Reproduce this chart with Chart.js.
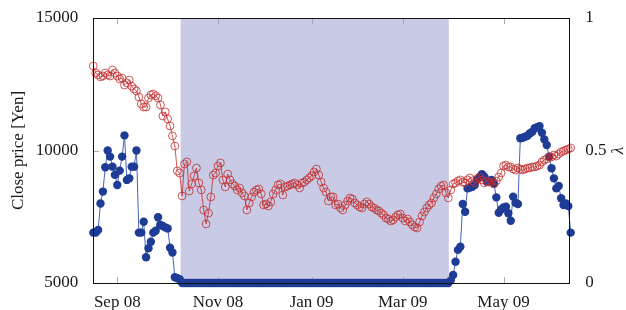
<!DOCTYPE html>
<html>
<head>
<meta charset="utf-8">
<script src="https://cdn.jsdelivr.net/npm/chart.js@4.4.1/dist/chart.umd.min.js"></script>
<style>
  html, body { margin: 0; padding: 0; background: #fff; }
  #wrap { width: 626px; height: 310px; position: relative; }
</style>
</head>
<body>
<div id="wrap"><canvas id="chart"></canvas></div>
<script>
  // trading-day index ticks (Aug 18 2008 = day 0)
  const xTickPos = [10, 52, 91, 129, 171];
  const xTickLabels = ['Sep 08', 'Nov 08', 'Jan 09', 'Mar 09', 'May 09'];
  const priceTicks = [5000, 10000, 15000];
  const lambdaTicks = [0, 0.5, 1];
  // period where lambda = 0 (shaded)
  const zeroPeriod = [36.4, 148.2];

  // close price [Yen], one per trading day
  const closePrice = [
    13190, 12925, 12850, 12775, 12810, 12925, 12850, 12810, 13040, 12925,
    12810, 12700, 12735, 12470, 12550, 12660, 12430, 12320, 12245, 12020,
    11755, 11640, 11640, 11980, 12095, 12130, 12060, 11980, 11720, 11300,
    11455, 11190, 10925, 10550, 10170, 9230, 9150, 8285, 9490, 9570,
    8470, 8740, 9040, 9340, 8775, 8510, 7755, 7225, 7640, 8250,
    9075, 9150, 9415, 9530, 8890, 8625, 9110, 8890, 8740, 8660,
    8510, 8585, 8400, 8285, 7755, 8020, 8250, 8430, 8510, 8550,
    8360, 7945, 7980, 7905, 8060, 8360, 8510, 8700, 8740, 8320,
    8625, 8660, 8700, 8740, 8775, 8700, 8585, 8775, 8810, 8890,
    8965, 9040, 9190, 9300, 9075, 8810, 8585, 8430, 8095, 8250,
    8250, 7945, 7980, 7830, 7755, 7945, 8095, 8210, 8170, 8020,
    7945, 7870, 7830, 7980, 8060, 7980, 7870, 7830, 7755, 7720,
    7640, 7570, 7450, 7415, 7340, 7380, 7490, 7570, 7605, 7450,
    7340, 7415, 7300, 7190, 7110, 7075, 7300, 7530, 7680, 7830,
    7945, 8020, 8210, 8360, 8550, 8660, 8700, 8400, 8210, 8510,
    8740, 8775, 8850, 8890, 8810, 8775, 8890, 8965, 8850, 8775,
    8925, 9000, 8890, 8775, 8850, 8810, 8810, 8740, 8850, 9000,
    9150, 9415, 9450, 9380, 9380, 9300, 9265, 9340, 9300, 9265,
    9300, 9340, 9340, 9380, 9380, 9415, 9450, 9570, 9640, 9680,
    9755, 9755, 9830, 9790, 9870, 9940, 9980, 10020, 10055, 10095
  ];

  // lambda, one per trading day
  const lambda = [
    0.19, 0.19, 0.20, 0.30, 0.345, 0.437, 0.50, 0.477, 0.439, 0.408,
    0.37, 0.424, 0.477, 0.557, 0.389, 0.395, 0.439, 0.439, 0.50, 0.19,
    0.19, 0.231, 0.097, 0.131, 0.156, 0.19, 0.197, 0.248, 0.219, 0.215,
    0.21, 0.206, 0.133, 0.115, 0.022, 0.018, 0.014,
    0, 0, 0, 0, 0, 0, 0, 0, 0, 0, 0, 0, 0, 0, 0, 0,
    0, 0, 0, 0, 0, 0, 0, 0, 0, 0, 0, 0, 0, 0, 0, 0,
    0, 0, 0, 0, 0, 0, 0, 0, 0, 0, 0, 0, 0, 0, 0, 0,
    0, 0, 0, 0, 0, 0, 0, 0, 0, 0, 0, 0, 0, 0, 0, 0,
    0, 0, 0, 0, 0, 0, 0, 0, 0, 0, 0, 0, 0, 0, 0, 0,
    0, 0, 0, 0, 0, 0, 0, 0, 0, 0, 0, 0, 0, 0, 0, 0,
    0, 0, 0, 0, 0, 0, 0, 0, 0, 0, 0, 0, 0, 0, 0, 0,
    0.01, 0.03, 0.08, 0.125, 0.137, 0.298, 0.269, 0.357, 0.36, 0.363,
    0.37, 0.391, 0.40, 0.411, 0.401, 0.382, 0.386, 0.389, 0.375, 0.323,
    0.265, 0.278, 0.285, 0.288, 0.263, 0.235, 0.326, 0.303, 0.298, 0.546,
    0.548, 0.552, 0.556, 0.565, 0.571, 0.584, 0.588, 0.592, 0.567, 0.542,
    0.521, 0.477, 0.433, 0.395, 0.357, 0.366, 0.32, 0.294, 0.30, 0.29,
    0.19
  ];

  const RED = 'rgb(196, 44, 44)';
  const BLUE = 'rgb(30, 60, 150)';
  const BLUE_LINE = 'rgb(70, 100, 185)';
  const SHADE = 'rgb(201, 203, 230)';
  const FONT = "'Liberation Serif', 'DejaVu Serif', serif";

  // shaded band + inside tick marks, then the frame and the right label on top
  const framePlugin = {
    id: 'frame',
    beforeDatasetsDraw(chart) {
      const { ctx, chartArea: a, scales } = chart;
      const x = scales.x, yl = scales.y, yr = scales.y1;
      ctx.save();
      ctx.fillStyle = SHADE;
      const x0 = x.getPixelForValue(zeroPeriod[0]);
      const x1 = x.getPixelForValue(zeroPeriod[1]);
      ctx.fillRect(x0, a.top, x1 - x0, a.bottom - a.top);

      ctx.strokeStyle = '#9a9a9a';
      ctx.lineWidth = 0.8;
      ctx.beginPath();
      xTickPos.forEach(v => {
        const px = Math.round(x.getPixelForValue(v)) + 0.5;
        ctx.moveTo(px, a.bottom); ctx.lineTo(px, a.bottom - 6);
        ctx.moveTo(px, a.top); ctx.lineTo(px, a.top + 6);
      });
      priceTicks.slice(1, -1).forEach(v => {
        const py = Math.round(yl.getPixelForValue(v)) + 0.5;
        ctx.moveTo(a.left, py); ctx.lineTo(a.left + 6, py);
      });
      lambdaTicks.slice(1, -1).forEach(v => {
        const py = Math.round(yr.getPixelForValue(v)) + 0.5;
        ctx.moveTo(a.right, py); ctx.lineTo(a.right - 6, py);
      });
      ctx.stroke();
      ctx.restore();
    },
    afterDatasetsDraw(chart) {
      const { ctx, chartArea: a } = chart;
      ctx.save();
      ctx.strokeStyle = '#111';
      ctx.lineWidth = 1;
      ctx.strokeRect(Math.round(a.left) + 0.5, Math.round(a.top) + 0.5,
        Math.round(a.right - a.left) - 1, Math.round(a.bottom - a.top));
      ctx.restore();
    },
    afterDraw(chart) {
      // right axis title, rotated the same way as the left one
      const { ctx, chartArea: a } = chart;
      ctx.save();
      ctx.translate(chart.width - 7, (a.top + a.bottom) / 2);
      ctx.rotate(-Math.PI / 2);
      ctx.fillStyle = '#1a1a1a';
      ctx.font = 'italic 17px ' + FONT;
      ctx.textAlign = 'center';
      ctx.textBaseline = 'middle';
      ctx.fillText('λ', 0, 0);
      ctx.restore();
    }
  };

  new Chart(document.getElementById('chart'), {
    type: 'line',
    data: {
      datasets: [
        {
          label: 'Close price',
          data: closePrice.map((v, i) => ({ x: i, y: v })),
          yAxisID: 'y',
          borderColor: RED,
          borderWidth: 0.8,
          pointStyle: 'circle',
          pointRadius: 3.9,
          pointBorderWidth: 0.8,
          pointBorderColor: RED,
          pointBackgroundColor: 'rgba(0,0,0,0)',
          tension: 0,
          clip: false
        },
        {
          label: 'lambda',
          data: lambda.map((v, i) => ({ x: i, y: v })),
          yAxisID: 'y1',
          borderColor: BLUE_LINE,
          borderWidth: 1,
          pointRadius: 4.2,
          pointBorderWidth: 0,
          pointBackgroundColor: BLUE,
          tension: 0,
          clip: false
        }
      ]
    },
    options: {
      responsive: true,
      maintainAspectRatio: false,
      animation: false,
      layout: { padding: { top: 18, left: 0, right: 0, bottom: 0 } },
      plugins: { legend: { display: false }, tooltip: { enabled: false } },
      scales: {
        x: {
          type: 'linear',
          min: 0,
          max: 199,
          grid: { display: false },
          border: { display: false },
          afterFit: s => { s.height = 27; },
          afterBuildTicks: s => { s.ticks = xTickPos.map(v => ({ value: v })); },
          ticks: {
            padding: 1,
            maxRotation: 0,
            autoSkip: false,
            color: '#1a1a1a',
            font: { family: FONT, size: 17 },
            callback: v => xTickLabels[xTickPos.indexOf(v)]
          }
        },
        y: {
          position: 'left',
          min: 5000,
          max: 15000,
          grid: { display: false },
          border: { display: false },
          afterFit: s => { s.width = 93.3; },
          afterBuildTicks: s => { s.ticks = priceTicks.map(v => ({ value: v })); },
          ticks: {
            padding: 7,
            color: '#1a1a1a',
            font: { family: FONT, size: 17 },
            callback: v => String(v)
          },
          title: {
            display: true,
            text: 'Close price [Yen]',
            color: '#1a1a1a',
            font: { family: FONT, size: 17, lineHeight: 1.2 },
            padding: { top: 8, bottom: 0 }
          }
        },
        y1: {
          position: 'right',
          min: 0,
          max: 1,
          grid: { display: false },
          border: { display: false },
          afterFit: s => { s.width = 55.3; },
          afterBuildTicks: s => { s.ticks = lambdaTicks.map(v => ({ value: v })); },
          ticks: {
            padding: 6.5,
            color: '#1a1a1a',
            font: { family: FONT, size: 17 },
            callback: v => String(v)
          }
        }
      }
    },
    plugins: [framePlugin]
  });
</script>
</body>
</html>
